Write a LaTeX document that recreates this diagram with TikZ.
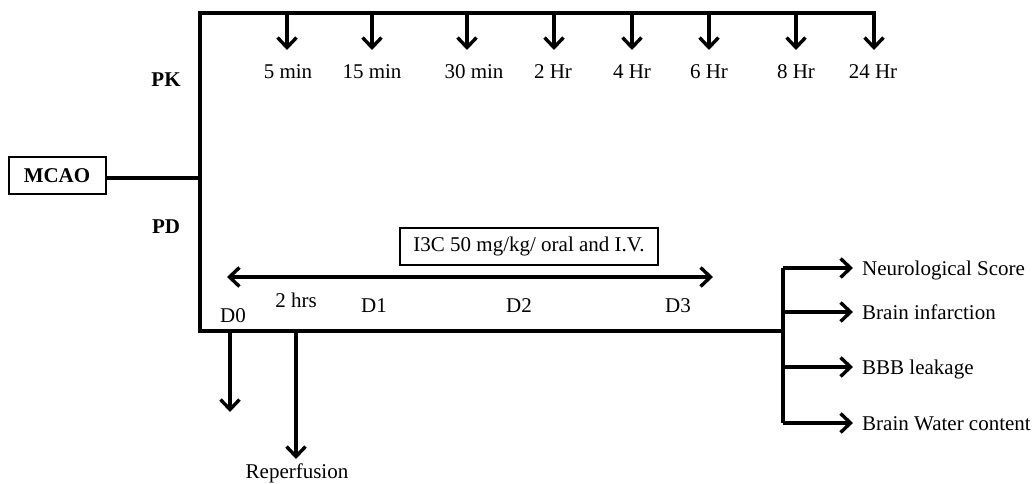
\documentclass[tikz,border=0pt]{standalone}
\usepackage{fontspec}
\setmainfont{Liberation Serif}
\usetikzlibrary{arrows.meta}
\begin{document}
\begin{tikzpicture}[x=1pt,y=-1pt,
  lbl/.style={font=\fontsize{21}{25}\selectfont, inner sep=0pt, anchor=base},
  blbl/.style={lbl, font=\fontsize{21}{25}\selectfont\bfseries},
  mainline/.style={line width=3.8pt, line cap=rect},
  arr/.style={line width=3.4pt, -{Straight Barb[length=10pt,width=19pt]}},
  darr/.style={line width=3.4pt, {Straight Barb[length=10pt,width=19pt]}-{Straight Barb[length=10pt,width=19pt]}},
  boxed/.style={draw, line width=2pt, inner sep=0pt, font=\fontsize{21}{25}\selectfont}]
\useasboundingbox (0,0) rectangle (1035,484);

% MCAO box
\node[boxed, minimum width=97pt, minimum height=37pt, font=\fontsize{21}{25}\selectfont\bfseries] (mcao) at (57,175.5) {MCAO};
\coordinate (junc) at (200,178);
\coordinate (tl) at (200,13);
\coordinate (tr) at (874,13);
\coordinate (bl) at (200,331);
\coordinate (br) at (783,331);
\draw[mainline] (mcao.east |- junc) -- (junc);
\draw[mainline] (br) -- (bl) -- (tl) -- (tr);

% PK / PD
\node[blbl] (pk) at (166,87) {PK};
\node[blbl] (pd) at (166,233) {PD};

% top time points
\foreach \x/\t/\lx [count=\i] in {287/5 min/288, 372/15 min/372, 467/30 min/474, 554/2 Hr/553, 632/4 Hr/632, 709/6 Hr/709, 796/8 Hr/796, 874/24 Hr/873}{
  \coordinate (t\i) at (\x,13);
  \node[lbl] (tl\i) at (\lx,79) {\t};
  \draw[arr] (t\i) -- (\x,50);
}

% treatment box and double arrow
\node[boxed, minimum width=258pt, minimum height=37pt] (i3c) at (529,246) {I3C 50 mg/kg/ oral and I.V.};
\coordinate (dl) at (227,277);
\coordinate (dr) at (713,277);
\draw[darr] (dl) -- (dr);

% day labels
\node[lbl] (d0) at (233,322) {D0};
\node[lbl] (h2) at (296,307) {2 hrs};
\node[lbl] (d1) at (374,312) {D1};
\node[lbl] (d2) at (519,312) {D2};
\node[lbl] (d3) at (678,312) {D3};

% down arrows
\coordinate (a0) at (230,331);
\coordinate (a1) at (296,331);
\draw[arr] (a0) -- (230,412);
\node[lbl] (rep) at (297,478) {Reperfusion};
\draw[arr] (a1) -- (296,459);

% outcomes
\draw[mainline, line cap=butt] (783,268) -- (783,423);
\foreach \y/\t [count=\i] in {268/Neurological Score, 312/Brain infarction, 367/BBB leakage, 423/Brain Water content}{
  \coordinate (o\i) at (783,\y);
  \node[lbl, anchor=base west] (out\i) at (862,\y+7) {\t};
  \draw[arr] (o\i) -- (853,\y);
}
\end{tikzpicture}
\end{document}
